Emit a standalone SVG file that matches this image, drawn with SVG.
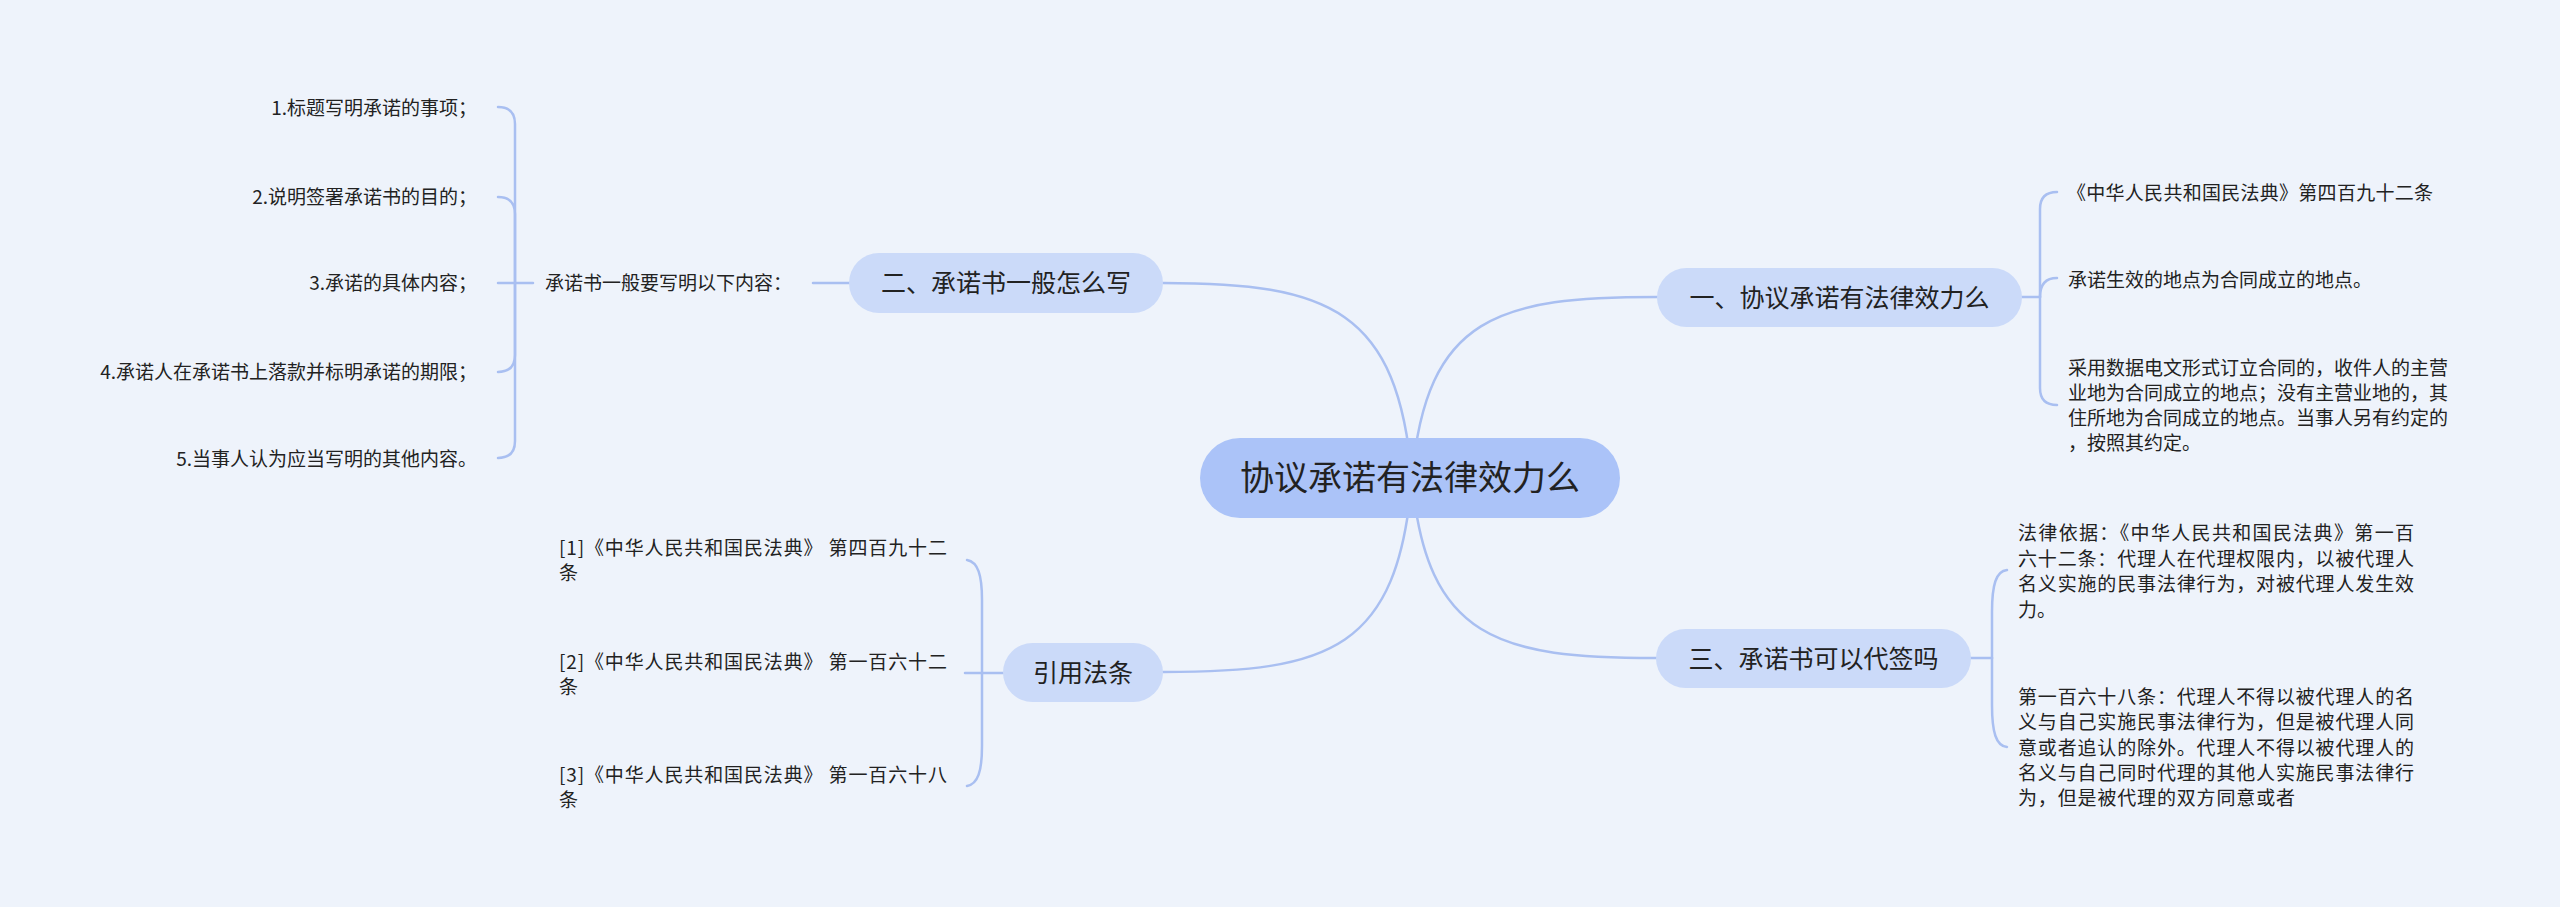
<svg xmlns="http://www.w3.org/2000/svg" width="2560" height="907" viewBox="0 0 2560 907">
<style>
text{font-family:"Noto Sans CJK SC","Noto Sans",sans-serif;fill:#222222}
.t{font-size:19px}
.b{font-size:25px}
.c{font-size:34px}
.ln{fill:none;stroke:#a9bff1;stroke-width:2.5;stroke-linecap:round}
.bn{fill:#cbdaf9}
.cn{fill:#abc3f8}
</style>
<rect x="0" y="0" width="2560" height="907" fill="#eef3fb"/>
<g id="connectors">
<path class="ln" d="M1412,478 C1398,310 1330,283 1163,283"/>
<path class="ln" d="M1412,478 C1426,315 1500,297 1657,297"/>
<path class="ln" d="M1412,478 C1426,640 1500,658 1656,658"/>
<path class="ln" d="M1412,478 C1398,650 1330,672 1163,672"/>
<path class="ln" d="M849,283 L813,283"/>
<path class="ln" d="M533,283 L498,283"/>
<path class="ln" d="M515,283 L515,124 Q515,107 498,107"/>
<path class="ln" d="M515,283 L515,214 Q515,197 498,197"/>
<path class="ln" d="M515,283 L515,355 Q515,372 498,372"/>
<path class="ln" d="M515,283 L515,441 Q515,458 498,458"/>
<path class="ln" d="M2022,297 L2040,297"/>
<path class="ln" d="M2040,297 L2040,209 Q2040,192 2057,192"/>
<path class="ln" d="M2040,297 Q2040,278 2057,278"/>
<path class="ln" d="M2040,297 L2040,388 Q2040,405 2057,405"/>
<path class="ln" d="M1971,658 L1992,658"/>
<path class="ln" d="M1992,658 L1992,612 C1992,585 1996,571 2007,570"/>
<path class="ln" d="M1992,658 L1992,705 C1992,732 1996,746 2007,747"/>
<path class="ln" d="M1003,673 L965,673"/>
<path class="ln" d="M982,673 L982,600 C982,575 978,562 967,560"/>
<path class="ln" d="M982,673 L982,746 C982,771 978,784 967,786"/>
</g>
<g id="center">
<rect class="cn" x="1200" y="438" width="420" height="80" rx="40"/>
<text class="c" x="1410" y="490" text-anchor="middle">协议承诺有法律效力么</text>
</g>
<g id="b1">
<rect class="bn" x="1657" y="268" width="365" height="59" rx="29.5"/>
<text class="b" x="1839.5" y="307" text-anchor="middle">一、协议承诺有法律效力么</text>
</g>
<g id="b1-1"><text class="t" x="2067" y="200" textLength="366" lengthAdjust="spacing">《中华人民共和国民法典》第四百九十二条</text></g>
<g id="b1-2"><text class="t" x="2068" y="287">承诺生效的地点为合同成立的地点。</text></g>
<g id="b1-3">
<text class="t" x="2068" y="375">采用数据电文形式订立合同的，收件人的主营</text>
<text class="t" x="2068" y="400">业地为合同成立的地点；没有主营业地的，其</text>
<text class="t" x="2068" y="425">住所地为合同成立的地点。当事人另有约定的</text>
<text class="t" x="2068" y="450">，按照其约定。</text>
</g>
<g id="b2">
<rect class="bn" x="849" y="253" width="314" height="60" rx="30"/>
<text class="b" x="1006" y="292" text-anchor="middle">二、承诺书一般怎么写</text>
</g>
<g id="b2-0"><text class="t" x="545" y="290">承诺书一般要写明以下内容：</text></g>
<g id="b2-1"><text class="t" x="477" y="115" text-anchor="end">1.标题写明承诺的事项；</text></g>
<g id="b2-2"><text class="t" x="477" y="204" text-anchor="end">2.说明签署承诺书的目的；</text></g>
<g id="b2-3"><text class="t" x="477" y="290" text-anchor="end">3.承诺的具体内容；</text></g>
<g id="b2-4"><text class="t" x="477" y="379" text-anchor="end">4.承诺人在承诺书上落款并标明承诺的期限；</text></g>
<g id="b2-5"><text class="t" x="477" y="466" text-anchor="end">5.当事人认为应当写明的其他内容。</text></g>
<g id="b3">
<rect class="bn" x="1656" y="629" width="315" height="59" rx="29.5"/>
<text class="b" x="1813.5" y="668" text-anchor="middle">三、承诺书可以代签吗</text>
</g>
<g id="b3-1">
<text class="t" x="2018" y="540" textLength="396" lengthAdjust="spacing">法律依据：《中华人民共和国民法典》第一百</text>
<text class="t" x="2018" y="565.5" textLength="396" lengthAdjust="spacing">六十二条：代理人在代理权限内，以被代理人</text>
<text class="t" x="2018" y="591" textLength="396" lengthAdjust="spacing">名义实施的民事法律行为，对被代理人发生效</text>
<text class="t" x="2018" y="616.5">力。</text>
</g>
<g id="b3-2">
<text class="t" x="2018" y="704" textLength="396" lengthAdjust="spacing">第一百六十八条：代理人不得以被代理人的名</text>
<text class="t" x="2018" y="729" textLength="396" lengthAdjust="spacing">义与自己实施民事法律行为，但是被代理人同</text>
<text class="t" x="2018" y="755" textLength="396" lengthAdjust="spacing">意或者追认的除外。代理人不得以被代理人的</text>
<text class="t" x="2018" y="780" textLength="396" lengthAdjust="spacing">名义与自己同时代理的其他人实施民事法律行</text>
<text class="t" x="2018" y="805" textLength="277" lengthAdjust="spacing">为，但是被代理的双方同意或者</text>
</g>
<g id="b4">
<rect class="bn" x="1003" y="643" width="160" height="59" rx="29.5"/>
<text class="b" x="1083" y="682" text-anchor="middle">引用法条</text>
</g>
<g id="r1">
<text class="t" x="559" y="555" textLength="388" lengthAdjust="spacing">[1]《中华人民共和国民法典》 第四百九十二</text>
<text class="t" x="559" y="580">条</text>
</g>
<g id="r2">
<text class="t" x="559" y="669" textLength="388" lengthAdjust="spacing">[2]《中华人民共和国民法典》 第一百六十二</text>
<text class="t" x="559" y="694">条</text>
</g>
<g id="r3">
<text class="t" x="559" y="782" textLength="388" lengthAdjust="spacing">[3]《中华人民共和国民法典》 第一百六十八</text>
<text class="t" x="559" y="807">条</text>
</g>
</svg>
